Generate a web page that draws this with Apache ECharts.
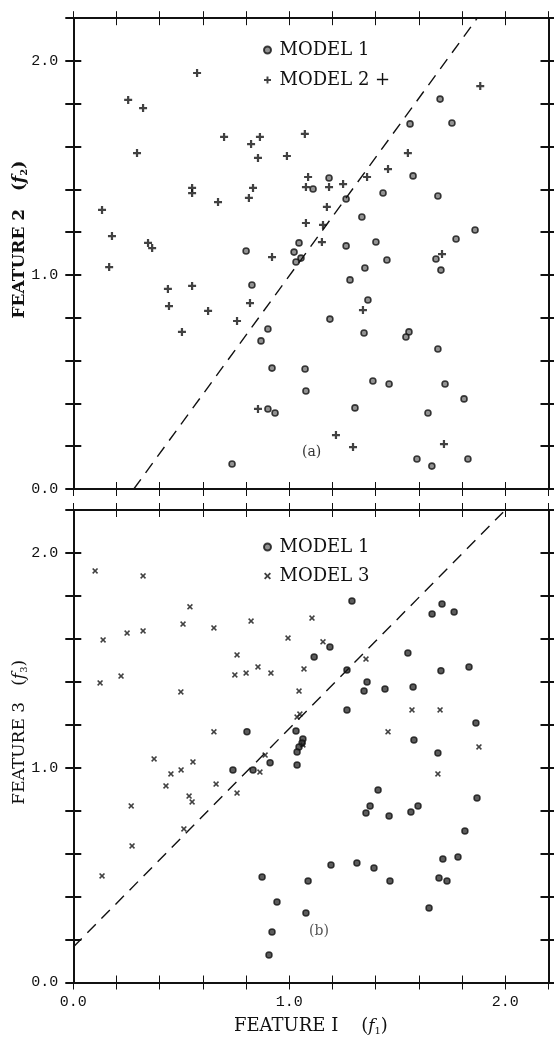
<!DOCTYPE html>
<html>
<head>
<meta charset="utf-8">
<script src="https://cdn.jsdelivr.net/npm/echarts@6/dist/echarts.min.js"></script>
<style>
  html, body { margin: 0; padding: 0; background: #fff; }
  #chart { width: 554px; height: 1040px; }
</style>
</head>
<body>
<div id="chart"></div>
<script>
// ---- panel (a): feature 1 vs feature 2 ----
const m1aF1 = [1.698, 1.559, 1.753, 1.573, 1.184, 1.110, 1.263, 1.434, 1.688, 1.336, 1.860, 1.772, 1.401, 1.263,
  1.045, 1.022, 1.054, 1.031, 0.800, 1.452, 1.679, 1.702, 1.350, 1.281, 1.364, 1.188, 0.827, 0.901, 0.869, 1.346,
  1.554, 1.540, 1.688, 0.920, 1.073, 1.077, 1.387, 1.462, 1.721, 1.809, 1.304, 1.642, 0.901, 0.934, 0.735, 1.591,
  1.660, 1.827];
const m1aF2 = [1.822, 1.706, 1.710, 1.463, 1.453, 1.402, 1.355, 1.383, 1.369, 1.271, 1.210, 1.168, 1.154, 1.136,
  1.150, 1.107, 1.079, 1.061, 1.112, 1.070, 1.075, 1.023, 1.033, 0.977, 0.883, 0.794, 0.953, 0.748, 0.692, 0.729,
  0.734, 0.710, 0.654, 0.565, 0.561, 0.458, 0.505, 0.491, 0.491, 0.421, 0.379, 0.355, 0.374, 0.355, 0.117, 0.140,
  0.107, 0.140];

const m2aF1 = [0.573, 0.254, 0.323, 0.698, 0.864, 0.823, 0.855, 0.295, 0.550, 0.550, 0.670, 0.832, 0.813, 0.133,
  0.179, 0.346, 0.365, 0.920, 1.884, 1.072, 0.989, 1.549, 1.087, 1.077, 1.184, 1.249, 1.360, 1.457, 1.174, 1.077,
  1.156, 1.151, 1.707, 0.166, 0.438, 0.550, 0.443, 0.624, 0.818, 0.758, 0.503, 1.341, 0.855, 1.216, 1.295, 1.716];
const m2aF2 = [1.944, 1.818, 1.780, 1.645, 1.645, 1.612, 1.547, 1.570, 1.407, 1.383, 1.341, 1.407, 1.360, 1.304,
  1.182, 1.150, 1.126, 1.084, 1.883, 1.659, 1.556, 1.570, 1.458, 1.411, 1.411, 1.425, 1.458, 1.495, 1.318, 1.243,
  1.234, 1.154, 1.098, 1.037, 0.935, 0.949, 0.855, 0.832, 0.869, 0.785, 0.734, 0.836, 0.374, 0.252, 0.196, 0.210];

const lineAF1 = [0.28, 1.87];
const lineAF2 = [0.0, 2.2];

// ---- panel (b): feature 1 vs feature 3 ----
const m1bF1 = [1.290, 1.707, 1.661, 1.763, 1.188, 1.115, 1.549, 1.267, 1.702, 1.832, 1.360, 1.346, 1.443, 1.573,
  1.267, 0.804, 1.031, 1.864, 1.577, 1.063, 1.059, 1.045, 1.036, 1.036, 0.911, 0.739, 0.832, 1.688, 1.411, 1.869,
  1.374, 1.355, 1.462, 1.563, 1.596, 1.813, 1.193, 1.313, 1.392, 1.466, 1.087, 1.711, 1.781, 1.693, 1.730, 1.647,
  0.874, 0.943, 1.077, 0.920, 0.906];
const m1bF3 = [1.776, 1.762, 1.716, 1.725, 1.562, 1.516, 1.534, 1.455, 1.451, 1.469, 1.399, 1.357, 1.367, 1.376,
  1.269, 1.167, 1.171, 1.208, 1.129, 1.134, 1.115, 1.097, 1.073, 1.013, 1.023, 0.990, 0.990, 1.069, 0.896, 0.859,
  0.822, 0.789, 0.775, 0.794, 0.822, 0.705, 0.547, 0.556, 0.533, 0.473, 0.473, 0.575, 0.584, 0.487, 0.473, 0.347,
  0.491, 0.375, 0.324, 0.235, 0.128];

const m3bF1 = [0.101, 0.323, 0.540, 0.508, 0.651, 0.823, 0.138, 0.249, 0.323, 0.758, 0.748, 0.800, 0.855, 0.915,
  0.124, 0.221, 0.498, 0.651, 1.105, 0.994, 1.156, 1.355, 1.068, 1.045, 1.568, 1.698, 1.036, 1.049, 1.457, 1.063,
  0.888, 0.864, 1.878, 1.688, 0.374, 0.554, 0.499, 0.452, 0.429, 0.661, 0.758, 0.536, 0.550, 0.268, 0.512, 0.272,
  0.133];
const m3bF3 = [1.916, 1.893, 1.749, 1.669, 1.651, 1.683, 1.595, 1.627, 1.637, 1.525, 1.432, 1.441, 1.469, 1.441,
  1.395, 1.427, 1.353, 1.167, 1.697, 1.604, 1.586, 1.506, 1.460, 1.357, 1.269, 1.269, 1.236, 1.250, 1.167, 1.106,
  1.059, 0.980, 1.097, 0.971, 1.041, 1.027, 0.990, 0.971, 0.915, 0.924, 0.882, 0.868, 0.841, 0.822, 0.715, 0.636,
  0.496];

const lineBF1 = [0.0, 1.99];
const lineBF3 = [0.165, 2.19];

const zip = (xs, ys) => xs.map((x, i) => [x, ys[i]]);

const INK = '#111';
const monoFont = { fontFamily: 'Liberation Mono', fontSize: 15, color: INK };
const serif = 'DejaVu Serif';
const plusPath = 'path://M3.4,0h2.6v3.4h3.4v2.6h-3.4v3.4h-2.6v-3.4h-3.4v-2.6h3.4z';
const crossPath = 'path://M0,1.5L1.5,0L4,2.5L6.5,0L8,1.5L5.5,4L8,6.5L6.5,8L4,5.5L1.5,8L0,6.5L2.5,4Z';

const tickLabel = v => Math.abs(v - Math.round(v)) < 1e-6 ? v.toFixed(1) : '';

const titleRich = {
    i: { fontFamily: serif, fontStyle: 'italic', fontSize: 17, color: INK },
    s: { fontFamily: serif, fontSize: 10, color: INK, padding: [10, 0, 0, 0] }
};

// each side gets two axes: one with outside ticks, one with inside ticks -> crossing ticks
function xAxesFor(g, showLabels, name) {
    const base = { gridIndex: g, type: 'value', min: 0, max: 2.2, interval: 0.2, splitLine: { show: false } };
    const tick = inside => ({ inside: inside, length: 7, lineStyle: { color: INK, width: 1 } });
    return [
        { ...base, position: 'bottom', axisLine: { onZero: false, lineStyle: { color: INK, width: 2 } },
          axisTick: tick(false), axisLabel: { show: showLabels, formatter: tickLabel, margin: 12, ...monoFont },
          name: name, nameLocation: 'middle', nameGap: 34, nameMoveOverlap: false,
          nameTextStyle: { fontFamily: serif, fontSize: 18, color: INK, rich: titleRich } },
        { ...base, position: 'bottom', axisLine: { show: false, onZero: false }, axisTick: tick(true), axisLabel: { show: false } },
        { ...base, position: 'top', axisLine: { onZero: false, lineStyle: { color: INK, width: 2 } }, axisTick: tick(false), axisLabel: { show: false } },
        { ...base, position: 'top', axisLine: { show: false, onZero: false }, axisTick: tick(true), axisLabel: { show: false } }
    ];
}

function yAxesFor(g, name, bold) {
    const base = { gridIndex: g, type: 'value', min: 0, max: 2.2, interval: 0.2, splitLine: { show: false } };
    const tick = inside => ({ inside: inside, length: 8, lineStyle: { color: INK, width: 2 } });
    return [
        { ...base, position: 'left', axisLine: { onZero: false, lineStyle: { color: INK, width: 2 } },
          axisTick: tick(false), axisLabel: { formatter: tickLabel, margin: 15, ...monoFont },
          name: name, nameLocation: 'middle', nameGap: 44, nameMoveOverlap: false,
          nameTextStyle: { fontFamily: serif, fontSize: 17, fontWeight: bold ? 'bold' : 'normal', color: INK,
                           rich: titleRich, padding: [0, 0, 0, 28] } },
        { ...base, position: 'left', axisLine: { show: false, onZero: false }, axisTick: tick(true), axisLabel: { show: false } },
        { ...base, position: 'right', axisLine: { onZero: false, lineStyle: { color: INK, width: 2 } }, axisTick: tick(false), axisLabel: { show: false } },
        { ...base, position: 'right', axisLine: { show: false, onZero: false }, axisTick: tick(true), axisLabel: { show: false } }
    ];
}

const circleStyle = { color: '#777', borderColor: INK, borderWidth: 1.6 };
const dashStyle = { color: INK, width: 1.4, type: [12, 8] };

const chart = echarts.init(document.getElementById('chart'), null, { renderer: 'canvas' });

const option = {
    animation: false,
    backgroundColor: '#fff',
    grid: [
        { left: 73.3, top: 18.2, width: 475.2, height: 470.8, outerBoundsMode: 'none' },
        { left: 73.3, top: 510, width: 475.2, height: 472.5, outerBoundsMode: 'none' }
    ],
    xAxis: [
        ...xAxesFor(0, false, ''),
        ...xAxesFor(1, true, 'FEATURE I    ({i|f}{s|1})')
    ],
    yAxis: [
        ...yAxesFor(0, 'FEATURE 2   ({i|f}{s|2})', true),
        ...yAxesFor(1, 'FEATURE 3   ({i|f}{s|3})', false)
    ],
    legend: [
        { data: ['MODEL 1', 'MODEL 2'], orient: 'vertical', left: 263, top: 41, padding: 0,
          itemWidth: 14, itemHeight: 7, itemGap: 12, selectedMode: false,
          formatter: n => n === 'MODEL 2' ? 'MODEL 2 +' : n,
          textStyle: { fontFamily: serif, fontSize: 18, color: INK } },
        { data: ['MODEL 1', 'MODEL 3'], orient: 'vertical', left: 263, top: 538, padding: 0,
          itemWidth: 14, itemHeight: 7, itemGap: 11, selectedMode: false,
          textStyle: { fontFamily: serif, fontSize: 18, color: INK } }
    ],
    graphic: [
        { type: 'text', left: 302, top: 445, style: { text: '(a)', fontFamily: serif, fontSize: 14, fill: '#333' } },
        { type: 'text', left: 309, top: 924, style: { text: '(b)', fontFamily: serif, fontSize: 14, fill: '#555' } }
    ],
    series: [
        { name: 'MODEL 1', type: 'scatter', xAxisIndex: 0, yAxisIndex: 0, data: zip(m1aF1, m1aF2),
          symbol: 'circle', symbolSize: 6, itemStyle: circleStyle },
        { name: 'MODEL 2', type: 'scatter', xAxisIndex: 0, yAxisIndex: 0, data: zip(m2aF1, m2aF2),
          symbol: plusPath, symbolSize: 8, itemStyle: { color: INK } },
        { type: 'line', xAxisIndex: 0, yAxisIndex: 0, data: zip(lineAF1, lineAF2), symbol: 'none',
          lineStyle: dashStyle, silent: true },
        { name: 'MODEL 1', type: 'scatter', xAxisIndex: 4, yAxisIndex: 4, data: zip(m1bF1, m1bF3),
          symbol: 'circle', symbolSize: 6, itemStyle: { color: '#333', borderColor: INK, borderWidth: 1.5 } },
        { name: 'MODEL 3', type: 'scatter', xAxisIndex: 4, yAxisIndex: 4, data: zip(m3bF1, m3bF3),
          symbol: crossPath, symbolSize: 6, itemStyle: { color: INK } },
        { type: 'line', xAxisIndex: 4, yAxisIndex: 4, data: zip(lineBF1, lineBF3), symbol: 'none',
          lineStyle: dashStyle, silent: true }
    ]
};

chart.setOption(option);
</script>
</body>
</html>
